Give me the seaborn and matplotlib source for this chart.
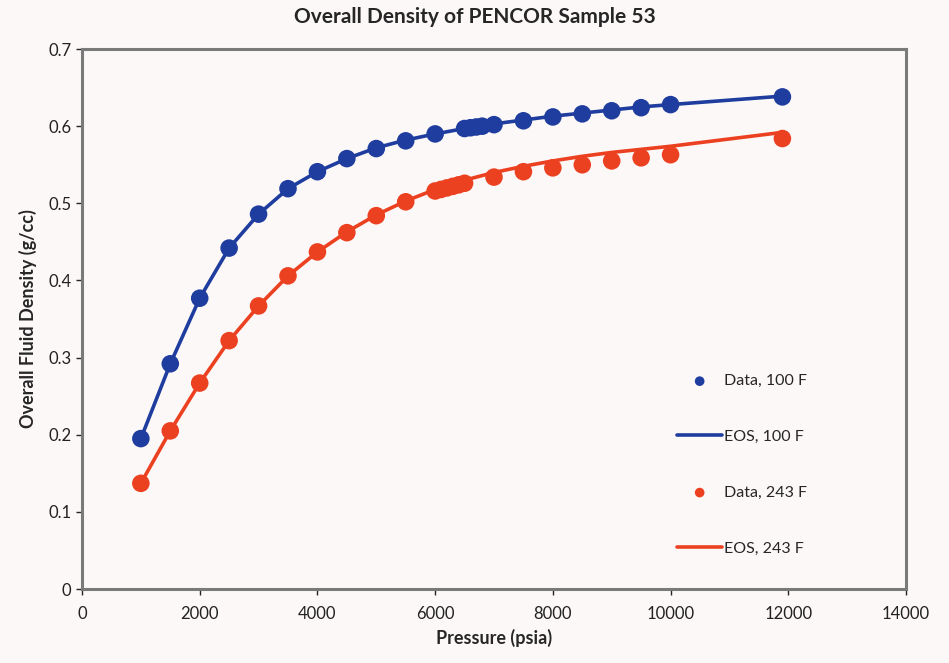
import matplotlib
matplotlib.use("Agg")
import matplotlib.pyplot as plt
import seaborn as sns
import pandas as pd

sns.set_style("white")
plt.rcParams['font.family'] = ['Lato', 'DejaVu Sans']

# Data, 100 F
p_data_100 = [1000, 1500, 2000, 2500, 3000, 3500, 4000, 4500, 5000, 5500, 6000,
              6500, 6600, 6700, 6800, 7000, 7500, 8000, 8500, 9000, 9500, 10000, 11900]
d_data_100 = [0.195, 0.292, 0.377, 0.442, 0.486, 0.519, 0.541, 0.558, 0.571, 0.581, 0.590,
              0.597, 0.598, 0.599, 0.600, 0.602, 0.607, 0.612, 0.616, 0.620, 0.624, 0.628, 0.638]
# EOS, 100 F
p_eos_100 = [1000, 1500, 2000, 2500, 3000, 3500, 4000, 4500, 5000, 5500, 6000,
             6500, 7000, 7500, 8000, 8500, 9000, 9500, 10000, 11900]
d_eos_100 = [0.195, 0.292, 0.377, 0.442, 0.486, 0.519, 0.541, 0.558, 0.572, 0.582, 0.590,
             0.597, 0.603, 0.608, 0.613, 0.617, 0.621, 0.625, 0.628, 0.639]
# Data, 243 F
p_data_243 = [1000, 1500, 2000, 2500, 3000, 3500, 4000, 4500, 5000, 5500, 6000,
              6100, 6200, 6300, 6400, 6500, 7000, 7500, 8000, 8500, 9000, 9500, 10000, 11900]
d_data_243 = [0.137, 0.205, 0.267, 0.322, 0.367, 0.406, 0.437, 0.462, 0.484, 0.502, 0.516,
              0.518, 0.520, 0.522, 0.524, 0.526, 0.534, 0.541, 0.546, 0.550, 0.555, 0.559, 0.563, 0.584]
# EOS, 243 F
p_eos_243 = [1000, 1500, 2000, 2500, 3000, 3500, 4000, 4500, 5000, 5500, 6000,
             6500, 7000, 7500, 8000, 8500, 9000, 9500, 10000, 11900]
d_eos_243 = [0.137, 0.205, 0.267, 0.322, 0.367, 0.406, 0.437, 0.463, 0.485, 0.503, 0.518,
             0.530, 0.540, 0.548, 0.555, 0.561, 0.566, 0.570, 0.574, 0.592]

x_ticks = [0, 2000, 4000, 6000, 8000, 10000, 12000, 14000]
y_ticks = [0, 0.1, 0.2, 0.3, 0.4, 0.5, 0.6, 0.7]

blue = "#1f3d9e"
red = "#ec4120"
bg = "#fdf8f8"

fig = plt.figure(figsize=(9.49, 6.63), dpi=100, facecolor=bg)
ax = fig.add_axes([0.0864, 0.1116, 0.8683, 0.8144])
ax.set_facecolor(bg)

sns.lineplot(x=p_eos_100, y=d_eos_100, ax=ax, color=blue, lw=2.6, label="EOS, 100 F", zorder=2)
sns.lineplot(x=p_eos_243, y=d_eos_243, ax=ax, color=red, lw=2.6, label="EOS, 243 F", zorder=2)
sns.scatterplot(x=p_data_100, y=d_data_100, ax=ax, color=blue, s=160, edgecolor="none",
                label="Data, 100 F", zorder=3)
sns.scatterplot(x=p_data_243, y=d_data_243, ax=ax, color=red, s=160, edgecolor="none",
                label="Data, 243 F", zorder=3)

ax.set_xlim(0, 14000)
ax.set_ylim(0, 0.7)
ax.set_xticks(x_ticks)
ax.set_yticks(y_ticks)
ax.set_xticklabels([str(t) for t in x_ticks])
ax.set_yticklabels(["0"] + [f"{t:.1f}" for t in y_ticks[1:]])
ax.tick_params(axis="both", labelsize=12, colors="#222222", length=4, width=1,
               direction="out", bottom=True, left=True)
ax.tick_params(axis="x", pad=8)
for sp in ax.spines.values():
    sp.set_color("#7a7a7a")
    sp.set_linewidth(2.2)

ax.set_xlabel("Pressure (psia)", fontsize=13, fontweight="bold", labelpad=5)
ax.set_ylabel("Overall Fluid Density (g/cc)", fontsize=13, fontweight="bold", labelpad=8)
fig.suptitle("Overall Density of PENCOR Sample 53", fontsize=15, fontweight="bold", y=0.99)

handles, labels = ax.get_legend_handles_labels()
order = ["Data, 100 F", "EOS, 100 F", "Data, 243 F", "EOS, 243 F"]
hmap = dict(zip(labels, handles))
leg = ax.legend([hmap[l] for l in order], order, loc="center left",
                bbox_to_anchor=(0.705, 0.23), frameon=False, fontsize=11.5,
                labelspacing=2.6, handlelength=2.8, handletextpad=0.1, markerscale=0.55)

fig.savefig("out.png", dpi=100, facecolor=bg)
